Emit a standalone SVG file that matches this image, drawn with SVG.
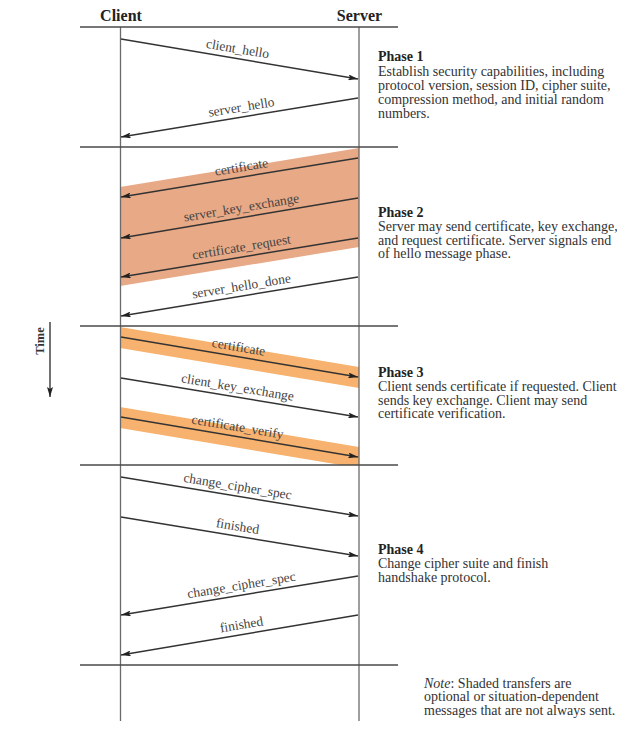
<svg xmlns="http://www.w3.org/2000/svg" width="617" height="734" viewBox="0 0 617 734">
<defs>
<style>
.hdr{font-family:"Liberation Serif",serif;font-weight:bold;font-size:16px;fill:#222;text-anchor:middle}
.ph{font-family:"Liberation Serif",serif;font-size:14px;fill:#333}
.phb{font-weight:bold;fill:#222}
.lbl{font-family:"Liberation Serif",serif;font-size:13.5px;fill:#444;text-anchor:middle}
.sep{stroke:#4a4a4a;stroke-width:1.6;fill:none}
.life{stroke:#6a6a6a;stroke-width:1.3;fill:none}
.msg{stroke:#333;stroke-width:1.5;fill:none;marker-end:url(#ah)}
.band2{fill:#E8A986}
.band3{fill:#F6B26E}
</style>
<marker id="ah" viewBox="0 0 10 6" refX="10" refY="3" markerWidth="10" markerHeight="6" markerUnits="userSpaceOnUse" orient="auto">
<path d="M0,0 L10,3 L0,6 L2,3 z" fill="#222"/>
</marker>
</defs>
<rect width="617" height="734" fill="#fff"/>

<g id="bands">
<polygon class="band2" points="120,187 359,148 359,247 120,286"/>
<polygon class="band3" points="120,327 359,367 359,388 120,348"/>
<polygon class="band3" points="120,407 359,447 359,465 341,465 120,428"/>
</g>

<g id="client">
<text class="hdr" x="121" y="21">Client</text>
<line class="life" x1="120.5" y1="27" x2="120.5" y2="721"/>
</g>
<g id="server">
<text class="hdr" x="359.5" y="21">Server</text>
<line class="life" x1="359" y1="27" x2="359" y2="721"/>
</g>

<g id="separators">
<line class="sep" x1="80" y1="27" x2="398" y2="27"/>
<line class="sep" x1="80" y1="147" x2="398" y2="147"/>
<line class="sep" x1="80" y1="326" x2="398" y2="326"/>
<line class="sep" x1="80" y1="465" x2="398" y2="465"/>
<line class="sep" x1="80" y1="665" x2="398" y2="665"/>
</g>

<g id="connectors">
<line class="msg" x1="121" y1="39" x2="358" y2="79"/>
<line class="msg" x1="358" y1="98" x2="121" y2="137"/>
<line class="msg" x1="358" y1="158" x2="121" y2="197"/>
<line class="msg" x1="358" y1="198" x2="121" y2="238"/>
<line class="msg" x1="358" y1="238" x2="121" y2="277"/>
<line class="msg" x1="358" y1="277" x2="121" y2="316"/>
<line class="msg" x1="121" y1="337" x2="358" y2="377"/>
<line class="msg" x1="121" y1="378" x2="358" y2="417"/>
<line class="msg" x1="121" y1="417" x2="358" y2="457"/>
<line class="msg" x1="121" y1="477" x2="358" y2="516"/>
<line class="msg" x1="121" y1="517" x2="358" y2="556"/>
<line class="msg" x1="358" y1="576" x2="121" y2="615"/>
<line class="msg" x1="358" y1="615" x2="121" y2="655"/>
</g>

<g id="labels">
<text class="lbl" transform="translate(236,58.5) rotate(9.5)" y="-5.5">client_hello</text>
<text class="lbl" transform="translate(243,116.8) rotate(-9.3)" y="-5.5">server_hello</text>
<text class="lbl" transform="translate(243,176.8) rotate(-9.3)" y="-5.5">certificate</text>
<text class="lbl" transform="translate(243,217.3) rotate(-9.5)" y="-5.5">server_key_exchange</text>
<text class="lbl" transform="translate(243,256.8) rotate(-9.3)" y="-5.5">certificate_request</text>
<text class="lbl" transform="translate(243,295.8) rotate(-9.3)" y="-5.5">server_hello_done</text>
<text class="lbl" transform="translate(237,356.7) rotate(9.5)" y="-5.5">certificate</text>
<text class="lbl" transform="translate(236,397) rotate(9.3)" y="-5.5">client_key_exchange</text>
<text class="lbl" transform="translate(236,436.5) rotate(9.5)" y="-5.5">certificate_verify</text>
<text class="lbl" transform="translate(236,496) rotate(9.3)" y="-5.5">change_cipher_spec</text>
<text class="lbl" transform="translate(236,536) rotate(9.3)" y="-5.5">finished</text>
<text class="lbl" transform="translate(243,594.8) rotate(-9.3)" y="-5.5">change_cipher_spec</text>
<text class="lbl" transform="translate(243,634.3) rotate(-9.5)" y="-5.5">finished</text>
</g>

<g id="phase1">
<text class="ph phb" x="378" y="61">Phase 1</text>
<text class="ph" x="378" y="76">Establish security capabilities, including</text>
<text class="ph" x="378" y="90">protocol version, session ID, cipher suite,</text>
<text class="ph" x="378" y="104">compression method, and initial random</text>
<text class="ph" x="378" y="117.5">numbers.</text>
</g>
<g id="phase2">
<text class="ph phb" x="378" y="217">Phase 2</text>
<text class="ph" x="378" y="231">Server may send certificate, key exchange,</text>
<text class="ph" x="378" y="244.5">and request certificate. Server signals end</text>
<text class="ph" x="378" y="258">of hello message phase.</text>
</g>
<g id="phase3">
<text class="ph phb" x="378" y="377">Phase 3</text>
<text class="ph" x="378" y="391">Client sends certificate if requested. Client</text>
<text class="ph" x="378" y="404.5">sends key exchange. Client may send</text>
<text class="ph" x="378" y="418">certificate verification.</text>
</g>
<g id="phase4">
<text class="ph phb" x="378" y="554">Phase 4</text>
<text class="ph" x="378" y="568">Change cipher suite and finish</text>
<text class="ph" x="378" y="582">handshake protocol.</text>
</g>
<g id="note">
<text class="ph" x="424" y="687.5"><tspan font-style="italic">Note</tspan>: Shaded transfers are</text>
<text class="ph" x="424" y="701">optional or situation-dependent</text>
<text class="ph" x="424" y="714.5">messages that are not always sent.</text>
</g>
<g id="time">
<line x1="50" y1="322" x2="50" y2="397" stroke="#444" stroke-width="1.5" marker-end="url(#ah)"/>
<text transform="translate(44,341) rotate(-90)" font-family="Liberation Serif, serif" font-weight="bold" font-size="12.5" fill="#333" text-anchor="middle">Time</text>
</g>
</svg>
